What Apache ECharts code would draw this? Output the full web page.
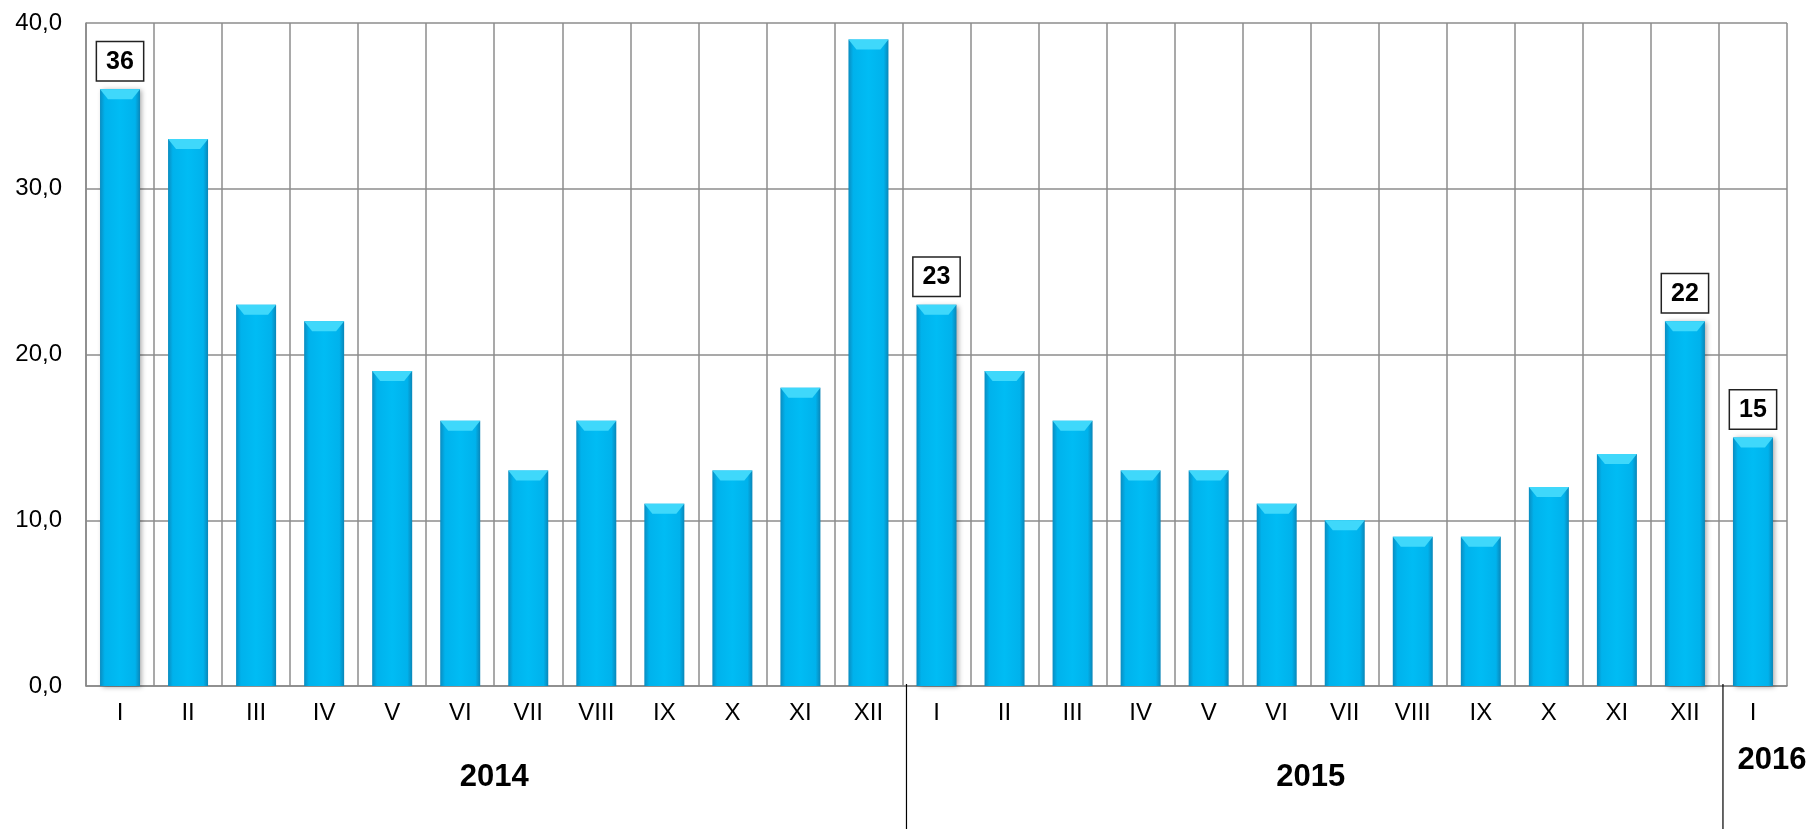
<!DOCTYPE html>
<html>
<head>
<meta charset="utf-8">
<script src="https://cdn.jsdelivr.net/npm/echarts@6/dist/echarts.min.js"></script>
<style>
html,body{margin:0;padding:0;background:#fff;}
#chart{width:1812px;height:829px;}
</style>
</head>
<body>
<div id="chart"></div>
<script>
const categories = ['I','II','III','IV','V','VI','VII','VIII','IX','X','XI','XII',
                    'I','II','III','IV','V','VI','VII','VIII','IX','X','XI','XII',
                    'I'];
const values = [36,33,23,22,19,16,13,16,11,13,18,39,
                23,19,16,13,13,11,10,9,9,12,14,22,
                15];
const labeledIndices = [0,12,23,24];
const yearNames = ['2014','2015','2016'];
const yearStart = [0,12,24];
const yearEnd = [11,23,24];
const yTicks = [0,10,20,30,40];

const FONT = '"Liberation Sans", Arial, sans-serif';
const chart = echarts.init(document.getElementById('chart'));

const barData = values.map((v,i) => ({
  value: v,
  label: { show: labeledIndices.includes(i) }
}));

chart.setOption({
  animation: false,
  grid: { left: 86, right: 25, top: 23, bottom: 143 },
  xAxis: {
    type: 'category',
    data: categories,
    boundaryGap: true,
    axisLine: { show: true, lineStyle: { color: '#888', width: 1.5 } },
    axisTick: { show: false },
    splitLine: { show: true, lineStyle: { color: '#8c8c8c', width: 1.5 } },
    axisLabel: { fontSize: 24, color: '#000', fontFamily: FONT, margin: 15, interval: 0 }
  },
  yAxis: {
    type: 'value',
    min: yTicks[0], max: yTicks[yTicks.length-1], interval: 10,
    axisLine: { show: true, lineStyle: { color: '#888', width: 1.5 } },
    axisTick: { show: false },
    splitLine: { show: true, lineStyle: { color: '#8c8c8c', width: 1.5 } },
    axisLabel: {
      fontSize: 24, color: '#000', fontFamily: FONT, margin: 24,
      formatter: v => v.toFixed(1).replace('.', ',')
    }
  },
  series: [
    {
      type: 'bar',
      data: barData,
      barWidth: 40,
      z: 2,
      itemStyle: {
        color: new echarts.graphic.LinearGradient(0,0,1,0,[
          {offset:0, color:'#0a8cc0'},
          {offset:0.12, color:'#00b2ec'},
          {offset:0.5, color:'#00bcf4'},
          {offset:0.88, color:'#00b2ec'},
          {offset:1, color:'#0a86b8'}
        ]),
        shadowBlur: 5,
        shadowColor: 'rgba(0,0,0,0.35)',
        shadowOffsetX: 2,
        shadowOffsetY: 1
      },
      label: {
        position: 'top',
        distance: 9,
        fontSize: 25,
        fontWeight: 'bold',
        fontFamily: FONT,
        color: '#000',
        backgroundColor: '#fff',
        borderColor: '#222',
        borderWidth: 1.5,
        padding: [7, 9, 6, 9],
        lineHeight: 25
      }
    },
    {
      type: 'pictorialBar',
      data: values,
      symbol: 'path://M0,0 L40,0 L32,9 L8,9 Z',
      symbolSize: [40, 10],
      symbolPosition: 'end',
      itemStyle: { color: '#3fd8fb' },
      z: 3,
      silent: true
    }
  ]
});

function addDecorations() {
  const cx = i => chart.convertToPixel({xAxisIndex: 0}, i);
  const y0 = chart.convertToPixel({yAxisIndex: 0}, 0);
  const H = 829;
  const elements = [];
  for (let k = 0; k < yearStart.length - 1; k++) {
    const b = (cx(yearEnd[k]) + cx(yearStart[k+1])) / 2 + 4;
    elements.push({
      type: 'line',
      shape: { x1: b, y1: y0 - 2, x2: b, y2: H },
      style: { stroke: '#000', lineWidth: 1.2 },
      z: 10
    });
  }
  for (let k = 0; k < yearNames.length; k++) {
    const single = yearStart[k] === yearEnd[k];
    const mid = (cx(yearStart[k]) + cx(yearEnd[k])) / 2;
    elements.push({
      type: 'text',
      x: single ? mid + 19 : mid,
      y: single ? y0 + 74 : y0 + 91,
      style: {
        text: yearNames[k],
        fontSize: 31,
        fontWeight: 'bold',
        fontFamily: FONT,
        fill: '#000',
        align: 'center',
        verticalAlign: 'middle'
      },
      z: 10
    });
  }
  chart.setOption({ graphic: elements });
}
addDecorations();
</script>
</body>
</html>
